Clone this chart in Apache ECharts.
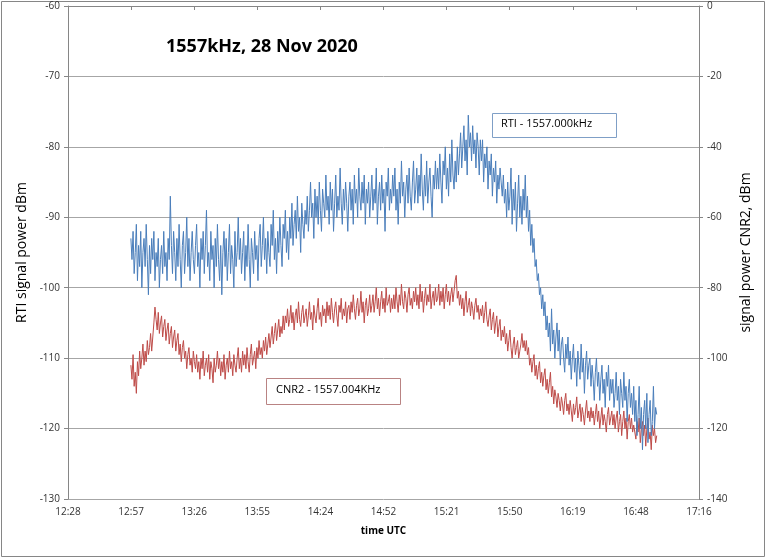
<!DOCTYPE html>
<html><head><meta charset="utf-8">
<script src="https://cdn.jsdelivr.net/npm/echarts@6/dist/echarts.min.js"></script>
<style>html,body{margin:0;padding:0;background:#fff}#c{width:768px;height:558px}</style>
</head><body><div id="c"></div>
<script>
// time in minutes after midnight; samples start at 12:57.5 every 0.5 minute
const startMin = 777.5;
const stepMin = 0.5;
const xTicks = ["12:28","12:57","13:26","13:55","14:24","14:52","15:21","15:50","16:19","16:48","17:16"];
const rtiValues = [
-93,-96,-92,-98,-95,-91,-99,-94,-97,-92,-100,-95,-93,-97,-91,-96,-101,-94,-98,-93,
-96,-92,-99,-95,-97,-93,-100,-96,-94,-98,-92,-97,-95,-99,-93,-96,-87,-94,-98,-92,
-95,-99,-93,-97,-91,-96,-100,-94,-92,-98,-95,-90,-97,-93,-99,-95,-92,-96,-98,-94,
-91,-97,-95,-100,-93,-96,-92,-98,-94,-89,-97,-95,-99,-92,-96,-94,-100,-93,-97,-91,
-96,-99,-94,-101,-95,-92,-97,-93,-99,-95,-91,-98,-94,-96,-100,-92,-97,-95,-90,-96,
-93,-98,-95,-92,-99,-94,-97,-91,-96,-100,-93,-95,-98,-92,-96,-94,-99,-93,-91,-97,
-94,-90,-96,-93,-98,-92,-95,-97,-91,-94,-89,-96,-93,-98,-92,-95,-90,-94,-97,-91,
-93,-89,-95,-92,-96,-90,-93,-88,-94,-91,-89,-93,-87,-92,-90,-95,-88,-91,-93,-89,
-91,-87,-92,-89,-85,-90,-88,-93,-86,-90,-87,-91,-85,-89,-92,-86,-88,-90,-84,-89,
-87,-91,-85,-89,-86,-92,-88,-84,-90,-87,-89,-83,-88,-91,-86,-89,-85,-88,-92,-87,
-85,-89,-86,-91,-84,-88,-86,-90,-83,-87,-89,-85,-88,-84,-91,-86,-88,-85,-90,-87,
-84,-89,-86,-88,-83,-91,-87,-85,-89,-84,-88,-86,-92,-85,-87,-83,-89,-86,-88,-84,
-87,-83,-89,-86,-91,-85,-88,-82,-87,-85,-90,-86,-84,-88,-83,-87,-89,-85,-82,-88,
-86,-83,-88,-84,-87,-81,-86,-89,-84,-87,-82,-88,-85,-83,-87,-90,-84,-86,-82,-86,
-83,-86,-81,-85,-88,-82,-84,-80,-86,-83,-87,-81,-85,-79,-84,-86,-82,-85,-80,-84,
-81,-78,-83,-80,-77,-82,-79,-84,-75.5,-80,-78,-82,-77,-81,-79,-83,-78,-80,-84,-79,
-82,-79,-85,-81,-83,-80,-86,-82,-84,-81,-87,-83,-85,-82,-88,-84,-86,-83,-85,-87,
-84,-88,-86,-90,-85,-89,-87,-83,-91,-86,-89,-85,-92,-88,-84,-90,-87,-91,-86,-89,
-84,-90,-87,-92,-89,-94,-91,-95,-93,-97,-96,-99,-98,-101,-100,-103,-101,-104,-102,-106,
-104,-107,-105,-109,-103,-108,-106,-110,-107,-105,-109,-106,-111,-108,-107,-110,-112,-108,-110,-107,
-111,-109,-113,-110,-108,-112,-110,-114,-109,-111,-113,-108,-112,-110,-115,-111,-109,-113,-111,-110,
-114,-111,-113,-116,-112,-110,-114,-112,-116,-113,-111,-115,-113,-117,-112,-114,-111,-116,-113,-115,
-113,-117,-115,-112,-116,-114,-118,-113,-115,-117,-112,-116,-114,-119,-115,-113,-117,-115,-118,-114,
-119,-116,-121,-118,-114,-120,-117,-123,-118,-116,-120,-115,-122,-118,-116,-121,-119,-114,-120,-117,
-118
];
const cnrValues = [
-102,-106,-99,-108,-104,-110,-101,-105,-98,-103,-100,-96,-102,-98,-101,-95,-99,-97,-93,-98,
-94,-90,-85.5,-89,-92,-87,-93,-90,-88,-94,-91,-89,-95,-92,-90,-96,-93,-91,-97,-94,
-92,-98,-95,-93,-99,-96,-101,-97,-95,-100,-98,-103,-99,-97,-102,-100,-104,-98,-101,-103,
-99,-104,-101,-106,-100,-103,-98,-105,-102,-100,-104,-99,-106,-101,-103,-107,-100,-104,-102,-98,
-103,-100,-105,-101,-104,-99,-106,-102,-100,-104,-98,-103,-101,-105,-99,-102,-104,-100,-97,-103,
-100,-104,-98,-102,-99,-103,-97,-101,-104,-99,-96,-102,-100,-98,-103,-97,-100,-95,-99,-97,
-100,-95,-98,-94,-99,-96,-93,-97,-94,-91,-96,-93,-90,-95,-92,-89,-94,-91,-93,-88,
-92,-88,-90,-86,-91,-89,-85,-90,-87,-92,-88,-86,-90,-84,-89,-91,-87,-85,-90,-88,
-86,-91,-88,-84,-89,-87,-92,-85,-88,-90,-86,-83,-89,-87,-91,-85,-88,-86,-90,-84,
-88,-85,-89,-83,-87,-90,-86,-84,-88,-91,-85,-87,-83,-89,-86,-88,-84,-90,-86,-85,
-89,-84,-87,-82,-86,-89,-85,-83,-88,-86,-81,-87,-84,-90,-85,-83,-88,-86,-82,-87,
-85,-82,-87,-84,-80,-86,-83,-88,-84,-81,-86,-83,-87,-80,-85,-84,-82,-87,-83,-86,
-82,-86,-80,-84,-87,-82,-85,-79,-84,-86,-81,-83,-87,-82,-80,-85,-83,-86,-81,-84,
-80,-85,-82,-86,-79,-84,-81,-87,-83,-80,-85,-82,-84,-79,-86,-83,-81,-85,-80,-84,
-83,-79,-85,-81,-84,-80,-86,-82,-79,-84,-81,-85,-82,-80,-84,-81,-78,-76.5,-83,-81,
-85,-82,-86,-83,-88,-84,-81,-87,-85,-83,-88,-84,-86,-89,-85,-83,-87,-85,-89,-86,
-88,-85,-90,-87,-84,-89,-91,-88,-86,-92,-89,-87,-93,-90,-88,-94,-91,-89,-95,-92,
-94,-91,-96,-93,-98,-95,-92,-97,-100,-96,-94,-99,-97,-95,-100,-98,-96,-93,-97,-95,
-98,-95,-99,-97,-102,-100,-104,-101,-99,-105,-102,-106,-103,-101,-107,-104,-108,-105,-103,-109,
-106,-110,-107,-104,-111,-108,-113,-109,-111,-114,-110,-112,-115,-111,-113,-116,-112,-110,-115,-113,
-116,-112,-115,-118,-113,-116,-114,-111,-117,-115,-113,-118,-114,-116,-119,-115,-112,-117,-115,-118,
-114,-117,-115,-119,-116,-113,-118,-115,-120,-117,-114,-119,-116,-118,-121,-116,-114,-119,-117,-115,
-119,-116,-120,-117,-115,-121,-118,-116,-122,-118,-115,-120,-117,-123,-118,-116,-120,-117,-121,-119,
-119,-123,-118,-121,-117,-124,-120,-118,-122,-119,-125,-120,-117,-123,-121,-126,-119,-122,-120,-124,
-122
];
const title = "1557kHz, 28 Nov 2020";
const rtiName = "RTI - 1557.000kHz";
const cnrName = "CNR2 - 1557.004KHz";

const FONT = "'Open Sans', 'Noto Sans', sans-serif";
const toPairs = arr => arr.map((v, i) => [startMin + i * stepMin, v]);
const xMin = 748.8, xMax = 1036.8, xInt = 28.8;

const chart = echarts.init(document.getElementById('c'), null, {renderer: 'canvas'});
chart.setOption({
  backgroundColor: '#fff',
  animation: false,
  grid: {left: 68, right: 69, top: 6, bottom: 59},
  xAxis: {
    type: 'value', min: xMin, max: xMax, interval: xInt,
    name: 'time UTC', nameLocation: 'middle', nameGap: 27,
    nameTextStyle: {fontFamily: FONT, fontSize: 10, fontWeight: 'bold', color: '#000'},
    axisLine: {lineStyle: {color: '#868686'}},
    axisTick: {show: true, length: 4, lineStyle: {color: '#868686'}},
    splitLine: {show: false},
    axisLabel: {
      fontFamily: FONT, fontSize: 10, color: '#333', margin: 8,
      formatter: v => { const idx = Math.round((v - xMin) / xInt); return xTicks[idx] || ''; }
    }
  },
  yAxis: [{
    type: 'value', min: -130, max: -60, interval: 10, position: 'left',
    name: 'RTI signal power dBm', nameLocation: 'middle', nameGap: 36, nameRotate: 90,
    nameTextStyle: {fontFamily: FONT, fontSize: 14, color: '#000'},
    axisLine: {show: true, lineStyle: {color: '#868686'}},
    axisTick: {show: true, length: 4, lineStyle: {color: '#868686'}},
    splitLine: {show: true, lineStyle: {color: '#a6a6a6', width: 1}},
    axisLabel: {fontFamily: FONT, fontSize: 10, color: '#333', margin: 8}
  }, {
    type: 'value', min: -140, max: 0, interval: 20, position: 'right',
    name: 'signal power CNR2, dBm', nameLocation: 'middle', nameGap: 40, nameRotate: 90,
    nameTextStyle: {fontFamily: FONT, fontSize: 14, color: '#000'},
    axisLine: {show: true, lineStyle: {color: '#868686'}},
    axisTick: {show: true, length: 4, lineStyle: {color: '#868686'}},
    splitLine: {show: false},
    axisLabel: {fontFamily: FONT, fontSize: 10, color: '#333', margin: 8}
  }],
  series: [{
    name: rtiName, type: 'line', yAxisIndex: 0, data: toPairs(rtiValues),
    showSymbol: false, symbol: 'none', lineStyle: {color: '#4a7ebb', width: 1}, z: 3
  }, {
    name: cnrName, type: 'line', yAxisIndex: 1, data: toPairs(cnrValues),
    showSymbol: false, symbol: 'none', lineStyle: {color: '#be4b48', width: 1}, z: 2
  }],
  graphic: [
    {type: 'rect', shape: {x: 1.5, y: 1.5, width: 763, height: 555}, style: {fill: 'none', stroke: '#868686', lineWidth: 1}, silent: true, z: 0},
    {type: 'text', left: 166, top: 38, style: {text: title, font: "bold 18px " + FONT, fill: '#000'}},
    {type: 'rect', shape: {x: 492.5, y: 113.5, width: 124, height: 24}, style: {fill: '#fff', stroke: '#7f9fc6', lineWidth: 1}, z: 10},
    {type: 'text', left: 501, top: 118, style: {text: rtiName, font: "11px " + FONT, fill: '#000'}, z: 11},
    {type: 'rect', shape: {x: 266.5, y: 378.5, width: 134, height: 26}, style: {fill: '#fff', stroke: '#b98383', lineWidth: 1}, z: 10},
    {type: 'text', left: 276, top: 384, style: {text: cnrName, font: "11px " + FONT, fill: '#000'}, z: 11}
  ]
});
</script></body></html>
